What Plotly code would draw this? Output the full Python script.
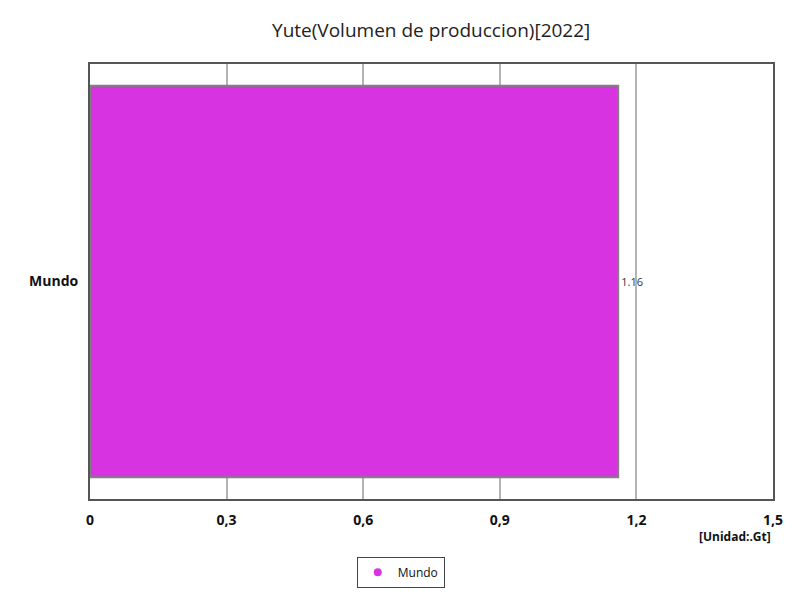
import plotly.graph_objs as go

# data
regions = ['Mundo']
production = [1.16]
x_ticks = [0, 0.3, 0.6, 0.9, 1.2, 1.5]
x_labels = ['0', '0,3', '0,6', '0,9', '1,2', '1,5']
bar_color = '#d833e0'

fig = go.Figure()
fig.add_trace(go.Bar(
    x=production,
    y=regions,
    orientation='h',
    name='Mundo',
    marker=dict(color=bar_color, line=dict(color='#808080', width=2)),
    text=[f"{v:.2f}" for v in production],
    textposition='outside',
    textfont=dict(size=11, color='#333333'),
    cliponaxis=False,
    showlegend=False,
))
# legend entry drawn with a round marker like the original
fig.add_trace(go.Scatter(
    x=[None], y=[None], mode='markers', name='Mundo',
    marker=dict(color=bar_color, size=8, symbol='circle'),
))

fig.update_layout(
    title=dict(text='Yute(Volumen de produccion)[2022]', x=0.529, y=0.962,
               xanchor='center', yanchor='middle',
               font=dict(size=19, color='#222222')),
    width=800, height=600,
    font=dict(family='Open Sans, DejaVu Sans, sans-serif', color='#111111'),
    plot_bgcolor='white',
    paper_bgcolor='white',
    bargap=0.1,
    margin=dict(l=82, r=35, t=56, b=109),
    xaxis=dict(
        range=[0, 1.5],
        tickmode='array', tickvals=x_ticks, ticktext=x_labels,
        tickfont=dict(size=14, weight='bold'),
        ticklabelstandoff=7,
        showgrid=True, gridcolor='#b4b4b4', gridwidth=1.5,
        showline=True, linecolor='#555555', linewidth=1.5, mirror=True,
        zeroline=False, ticklen=0,
    ),
    yaxis=dict(
        tickfont=dict(size=14, weight='bold'),
        ticksuffix='  ',
        showline=True, linecolor='#555555', linewidth=1.5, mirror=True,
        showgrid=False,
    ),
    legend=dict(
        orientation='h', x=0.455, y=-0.133, xanchor='center', yanchor='top',
        itemwidth=30,
        bordercolor='#444444', borderwidth=1, font=dict(size=12),
    ),
    annotations=[dict(
        text='[Unidad:.Gt]', xref='paper', yref='paper', x=1.0, y=-0.062,
        xanchor='right', yanchor='top', showarrow=False,
        font=dict(size=12, weight='bold'),
    )],
)

fig.write_html("out.html")
